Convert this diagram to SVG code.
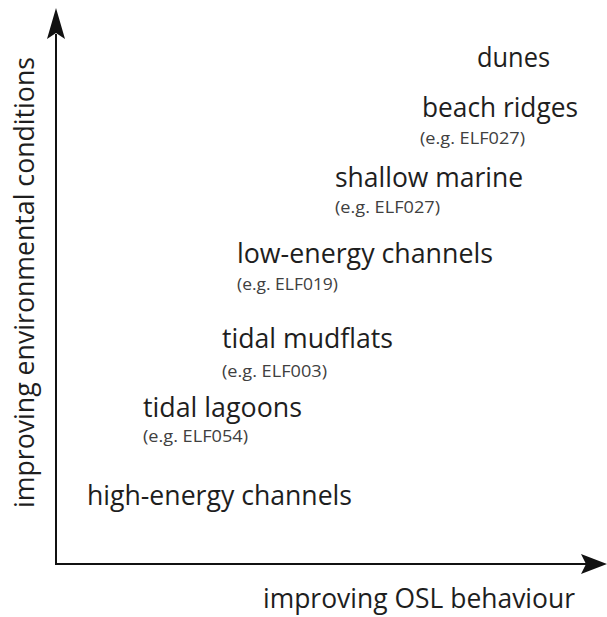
<svg xmlns="http://www.w3.org/2000/svg" width="607" height="617" viewBox="0 0 607 617">
<style>
.lbl{font-family:"Open Sans","Noto Sans","Liberation Sans",sans-serif;font-size:26.4px;fill:#1e1e1e}
.sub{font-family:"Open Sans","Noto Sans","Liberation Sans",sans-serif;font-size:16.5px;fill:#404040}
.axis{fill:none;stroke:#111;stroke-width:2}
.head{fill:#111;stroke:none}
</style>
<rect x="0" y="0" width="607" height="617" fill="#ffffff"/>
<g id="connectors">
<path class="axis" d="M56,34 V564 H588"/>
<path class="head" d="M56,8 L65,39 L56,33 L47,39 Z"/>
<path class="head" d="M607,564 L581,554 L586,564 L581,574 Z"/>
</g>
<g id="axis-y-label"><text class="lbl" transform="translate(34,508) rotate(-90)" textLength="451" lengthAdjust="spacingAndGlyphs">improving environmental conditions</text></g>
<g id="axis-x-label"><text class="lbl" x="263" y="608" textLength="312" lengthAdjust="spacingAndGlyphs">improving OSL behaviour</text></g>
<g id="dunes"><text class="lbl" x="477" y="67" textLength="73" lengthAdjust="spacingAndGlyphs">dunes</text></g>
<g id="beach-ridges">
<text class="lbl" x="422" y="117" textLength="156" lengthAdjust="spacingAndGlyphs">beach ridges</text>
<text class="sub" x="420" y="144" textLength="105" lengthAdjust="spacingAndGlyphs">(e.g. ELF027)</text>
</g>
<g id="shallow-marine">
<text class="lbl" x="335" y="187" textLength="188" lengthAdjust="spacingAndGlyphs">shallow marine</text>
<text class="sub" x="335" y="213" textLength="105" lengthAdjust="spacingAndGlyphs">(e.g. ELF027)</text>
</g>
<g id="low-energy-channels">
<text class="lbl" x="237" y="263" textLength="256" lengthAdjust="spacingAndGlyphs">low-energy channels</text>
<text class="sub" x="237" y="290" textLength="101" lengthAdjust="spacingAndGlyphs">(e.g. ELF019)</text>
</g>
<g id="tidal-mudflats">
<text class="lbl" x="222" y="348" textLength="171" lengthAdjust="spacingAndGlyphs">tidal mudflats</text>
<text class="sub" x="222" y="377" textLength="105" lengthAdjust="spacingAndGlyphs">(e.g. ELF003)</text>
</g>
<g id="tidal-lagoons">
<text class="lbl" x="143" y="417" textLength="159" lengthAdjust="spacingAndGlyphs">tidal lagoons</text>
<text class="sub" x="143" y="442" textLength="105" lengthAdjust="spacingAndGlyphs">(e.g. ELF054)</text>
</g>
<g id="high-energy-channels"><text class="lbl" x="87" y="505" textLength="265" lengthAdjust="spacingAndGlyphs">high-energy channels</text></g>
</svg>
